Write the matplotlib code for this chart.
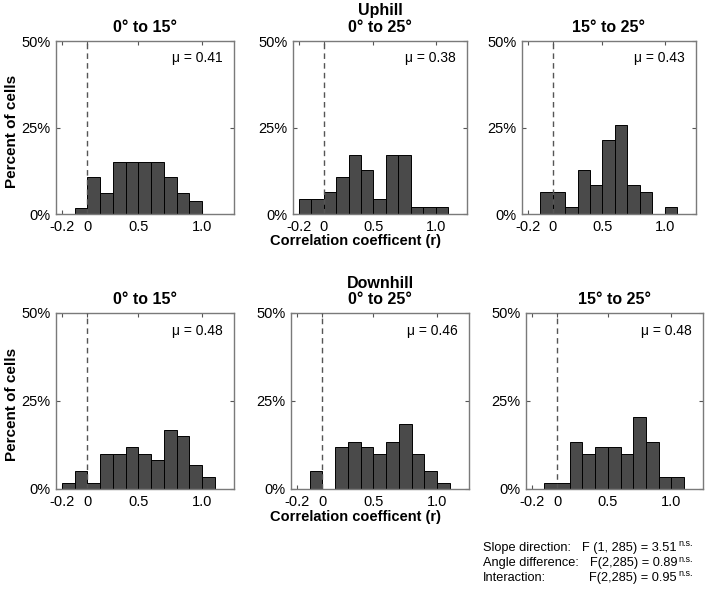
import matplotlib
matplotlib.use("Agg")
import matplotlib.pyplot as plt
import numpy as np

plt.rcParams['font.family'] = ['Liberation Sans', 'DejaVu Sans']

# ---------------- data ----------------
bin_width = 0.1
panel_titles = ["0° to 15°", "0° to 25°", "15° to 25°"]
row_titles = ["Uphill", "Downhill"]

# percent of cells per 0.1-wide bin; each list starts at the given left edge
uphill_0_15_start = -0.1
uphill_0_15 = [1.7, 10.6, 6.2, 14.9, 14.9, 14.9, 14.9, 10.6, 6.2, 3.9]
uphill_0_25_start = -0.2
uphill_0_25 = [4.2, 4.2, 6.4, 10.7, 17.1, 12.8, 4.2, 17.1, 17.1, 2.0, 2.0, 2.0]
uphill_15_25_start = -0.1
uphill_15_25 = [6.4, 6.4, 2.0, 12.8, 8.5, 21.5, 25.7, 8.5, 6.4, 0.0, 2.0]

downhill_0_15_start = -0.2
downhill_0_15 = [1.7, 5.0, 1.7, 10.0, 10.0, 11.8, 10.0, 8.3, 16.8, 15.1, 6.7, 3.3]
downhill_0_25_start = -0.1
downhill_0_25 = [5.0, 0.0, 11.8, 13.4, 11.8, 10.0, 13.4, 18.6, 10.0, 5.0, 1.7]
downhill_15_25_start = -0.1
downhill_15_25 = [1.7, 1.7, 13.4, 10.0, 11.8, 11.8, 10.0, 20.4, 13.4, 3.3, 3.3]

means = [[0.41, 0.38, 0.43], [0.48, 0.46, 0.48]]

# tick positions/labels as drawn in the original figure
xtick_pos = [-0.2, 0.0, 0.4, 0.9]
xtick_labels = ["-0.2", "0", "0.5", "1.0"]
ytick_pos = [0, 25, 50]
ytick_labels = ["0%", "25%", "50%"]

stats_labels = ["Slope direction:", "Angle difference:", "Interaction:"]
stats_values = ["F (1, 285) = 3.51", "F(2,285) = 0.89", "F(2,285) = 0.95"]
stats_sup = ["n.s.", "n.s.", "n.s."]

panels = [
    [(uphill_0_15_start, uphill_0_15), (uphill_0_25_start, uphill_0_25), (uphill_15_25_start, uphill_15_25)],
    [(downhill_0_15_start, downhill_0_15), (downhill_0_25_start, downhill_0_25), (downhill_15_25_start, downhill_15_25)],
]

# ---------------- layout ----------------
W, H = 709, 590
fig = plt.figure(figsize=(W / 100, H / 100), dpi=100)

def px_rect(x0, y0, x1, y1):
    return [x0 / W, 1 - y1 / H, (x1 - x0) / W, (y1 - y0) / H]

rects = [
    [(56, 41, 234, 214), (293, 41, 467, 214), (522, 41, 696, 214)],
    [(56, 313, 234, 489), (291, 313, 469, 489), (526, 313, 703, 489)],
]

bar_color = "#4a4a4a"
spine_color = "#7a7a7a"

for r in range(2):
    for c in range(3):
        ax = fig.add_axes(px_rect(*rects[r][c]))
        start, vals = panels[r][c]
        vals = np.array(vals)
        lefts = start + bin_width * np.arange(len(vals))
        mask = vals > 0
        ax.bar(lefts[mask], vals[mask], width=bin_width, align='edge',
               color=bar_color, edgecolor='black', linewidth=0.7, zorder=2)
        ax.axvline(0, color='#555555', linestyle=(0, (4, 3)), linewidth=1.0, zorder=3)
        ax.set_xlim(-0.245, 1.15)
        ax.set_ylim(0, 50)
        ax.set_xticks(xtick_pos)
        ax.set_xticklabels(xtick_labels)
        ax.set_yticks(ytick_pos)
        ax.set_yticklabels(ytick_labels)
        ax.tick_params(direction='in', length=3, width=0.8, color='#555555',
                       top=True, right=True, labelsize=10.5, pad=4)
        for s in ax.spines.values():
            s.set_color(spine_color)
            s.set_linewidth(1.0)
        ax.text(0.935, 0.90, f"μ = {means[r][c]:.2f}", transform=ax.transAxes,
                ha='right', va='center', fontsize=10)
        x0, y0, x1, y1 = rects[r][c]
        fig.text(((x0 + x1) / 2) / W, 1 - (y0 - 13) / H, panel_titles[c],
                 ha='center', va='center', fontsize=11.5, fontweight='bold')

# row headers
fig.text(380 / W, 1 - 11 / H, row_titles[0], ha='center', va='center', fontsize=11.5, fontweight='bold')
fig.text(380 / W, 1 - 284 / H, row_titles[1], ha='center', va='center', fontsize=11.5, fontweight='bold')

# axis labels
for yc, ylab in [(131, 241), (404, 517)]:
    fig.text(12 / W, 1 - yc / H, "Percent of cells", rotation=90, ha='center', va='center',
             fontsize=11, fontweight='bold')
    fig.text(356 / W, 1 - ylab / H, "Correlation coefficent (r)", ha='center', va='center',
             fontsize=10.5, fontweight='bold')

# statistics
for i, yline in enumerate([548, 563, 578]):
    fig.text(483 / W, 1 - yline / H, stats_labels[i], ha='left', va='center', fontsize=9.2)
    fig.text(677 / W, 1 - yline / H, stats_values[i], ha='right', va='center', fontsize=9.2)
    fig.text(678 / W, 1 - (yline - 4) / H, stats_sup[i], ha='left', va='center', fontsize=6.5)

fig.savefig("out.png", dpi=100)
